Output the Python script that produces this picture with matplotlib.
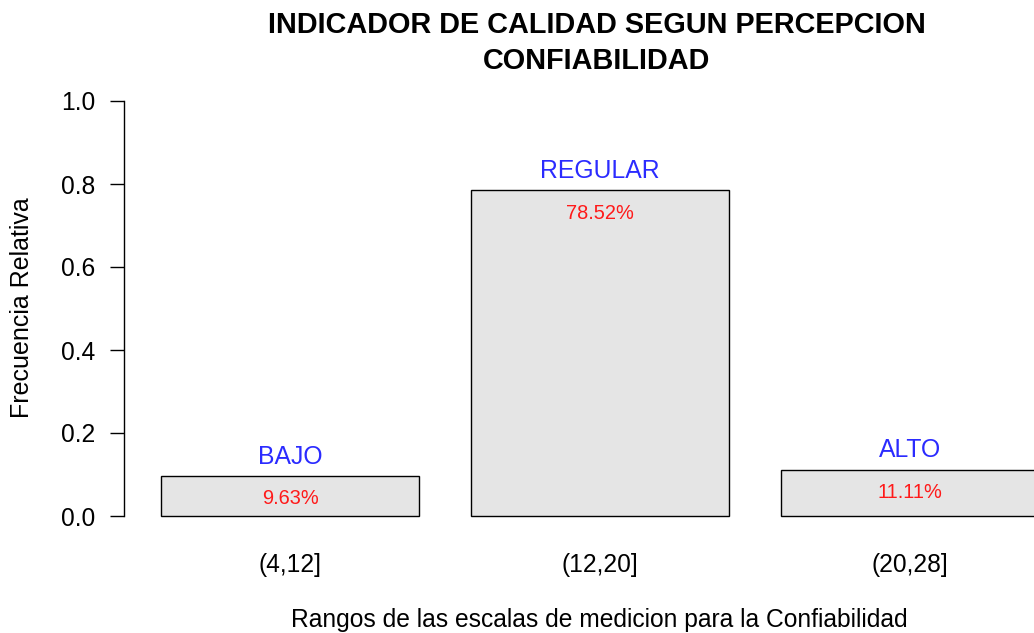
import matplotlib
matplotlib.use("Agg")
import matplotlib.pyplot as plt

categories = ["(4,12]", "(12,20]", "(20,28]"]
freq = [0.0963, 0.7852, 0.1111]
levels = ["BAJO", "REGULAR", "ALTO"]
pct_labels = ["9.63%", "78.52%", "11.11%"]
yticks = [0.0, 0.2, 0.4, 0.6, 0.8, 1.0]

plt.rcParams['font.family'] = ['Liberation Sans', 'DejaVu Sans']

W, H = 1034, 633
fig = plt.figure(figsize=(W / 100, H / 100), dpi=100)

# pixel geometry of plot region
px_unit = 258.3
x_left_px, x_right_px = 124, 1034
y_top_px, y_bot_px = 84.4, 532.6
ax = fig.add_axes([x_left_px / W, 1 - y_bot_px / H,
                   (x_right_px - x_left_px) / W, (y_bot_px - y_top_px) / H])
xmin = 0.2 - (161 - x_left_px) / px_unit
xmax = 0.2 + (x_right_px - 161) / px_unit
ax.set_xlim(xmin, xmax)
ax.set_ylim(-0.04, 1.04)

width = 1.0
space = 0.2
lefts = [space + i * (width + space) for i in range(len(freq))]
centers = [l + width / 2 for l in lefts]
ax.bar(centers, freq, width=width, color='#E5E5E5', edgecolor='black', linewidth=1.0)

for c, f, lev, p in zip(centers, freq, levels, pct_labels):
    ax.annotate(lev, (c, f), xytext=(0, 14), textcoords='offset points',
                ha='center', va='center', color='#2b2bff', fontsize=17.8)
    ax.annotate(p, (c, f), xytext=(0, -16.5), textcoords='offset points',
                ha='center', va='center', color='#ff1a1a', fontsize=14.4)

for s in ['top', 'right', 'bottom']:
    ax.spines[s].set_visible(False)
ax.spines['left'].set_bounds(0, 1)
ax.spines['left'].set_linewidth(1.0)
ax.set_yticks(yticks)
ax.set_yticklabels([f"{t:.1f}" for t in yticks])
ax.tick_params(axis='y', length=10, width=1.0, labelsize=17.7, pad=10.5, direction='out')
ax.set_xticks(centers)
ax.set_xticklabels(categories)
ax.tick_params(axis='x', length=0, labelsize=17.7, pad=14.5)

fig.text(22 / W, 1 - 308 / H, "Frecuencia Relativa", rotation=90, ha='center', va='center', fontsize=18)
fig.text(599 / W, 1 - 620 / H, "Rangos de las escalas de medicion para la Confiabilidad",
         ha='center', va='center', fontsize=17.7)
fig.text(597 / W, 1 - 43 / H, "INDICADOR DE CALIDAD SEGUN PERCEPCION\nCONFIABILIDAD",
         ha='center', va='center', fontsize=20.8, fontweight='bold', linespacing=1.35)

fig.savefig("out.png", dpi=100)
